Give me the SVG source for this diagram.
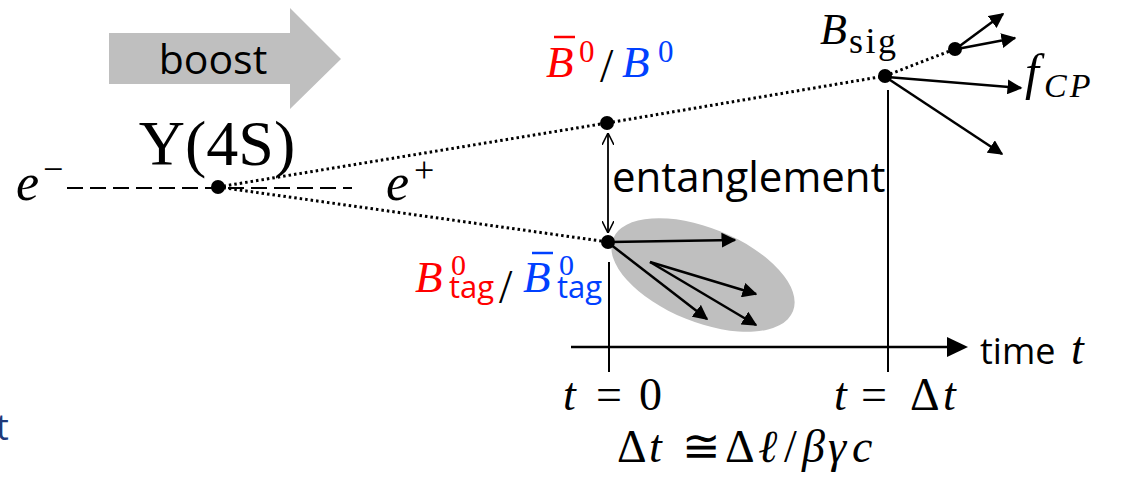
<svg xmlns="http://www.w3.org/2000/svg" width="1122" height="486" viewBox="0 0 1122 486">
<defs>
<marker id="ah" viewBox="0 0 10 10" refX="9" refY="5" markerWidth="6" markerHeight="6" markerUnits="strokeWidth" orient="auto">
<path d="M0,0 L10,5 L0,10 z" fill="#000"/>
</marker>
<marker id="oa" viewBox="0 0 10 10" refX="10" refY="5" markerWidth="12" markerHeight="12" markerUnits="userSpaceOnUse" orient="auto-start-reverse">
<path d="M0,0 L10,5 L0,10" fill="none" stroke="#000" stroke-width="1.3"/>
</marker>
</defs>
<style>
.sans{font-family:"Open Sans","Noto Sans","Liberation Sans",sans-serif;fill:#000}
.math{font-family:"Liberation Serif","DejaVu Serif",serif;fill:#000}
.it{font-style:italic}
.dot{fill:#000}
.dotted{stroke:#000;stroke-width:3;stroke-dasharray:2.5 3;fill:none}
.arr{stroke:#000;stroke-width:2.5;fill:none;marker-end:url(#ah)}
.thin{stroke:#000;stroke-width:2;fill:none}
.red{fill:#ff0000}
.blue{fill:#0040ff}
.sub{font-family:"Open Sans","Noto Sans","Liberation Sans",sans-serif;font-style:normal}
</style>
<rect width="1122" height="486" fill="#fff"/>

<g id="boost">
<path d="M109,33 L290,33 L290,8 L341,59 L290,109 L290,84 L109,84 z" fill="#bfbfbf"/>
<text class="sans" x="213" y="74" font-size="41" text-anchor="middle">boost</text>
</g>

<g id="connectors">
<line x1="67" y1="188" x2="352" y2="188" stroke="#000" stroke-width="2" stroke-dasharray="16 7"/>
<line class="dotted" x1="218" y1="187" x2="607" y2="123"/>
<line class="dotted" x1="607" y1="123" x2="885" y2="76"/>
<line class="dotted" x1="885" y1="76" x2="955" y2="49"/>
<line class="dotted" x1="218" y1="187" x2="608" y2="242"/>
<line x1="608" y1="133" x2="608" y2="233" stroke="#000" stroke-width="1.8" marker-start="url(#oa)" marker-end="url(#oa)"/>
<line class="thin" x1="609" y1="262" x2="609" y2="372"/>
<line class="thin" x1="888" y1="90" x2="888" y2="372"/>
<line x1="571" y1="347" x2="950" y2="347" stroke="#000" stroke-width="2.5"/>
<path d="M947,337 L968,347 L947,357 z" fill="#000"/>
</g>

<g id="upsilon">
<circle class="dot" cx="218" cy="187" r="7"/>
<text class="math" x="217" y="165" font-size="64" text-anchor="middle">Υ(4S)</text>
<text class="math it" x="16" y="200" font-size="52">e<tspan font-style="normal" font-size="36" dx="4" dy="-19">−</tspan></text>
<text class="math it" x="386" y="200" font-size="52">e<tspan font-style="normal" font-size="36" dx="5" dy="-18">+</tspan></text>
</g>

<g id="bbar-b">
<circle class="dot" cx="607" cy="123" r="7"/>
<text class="math it red" x="546" y="77" font-size="45">B<tspan font-style="normal" font-size="31" x="579" dy="-15">0</tspan></text>
<line x1="554" y1="37" x2="575" y2="37" stroke="#ff0000" stroke-width="2.5"/>
<text class="math" x="600" y="82" font-size="48">/</text>
<text class="math it blue" x="622" y="77" font-size="45">B<tspan font-style="normal" font-size="31" x="658" dy="-15">0</tspan></text>
</g>

<g id="entanglement">
<text class="sans" x="612" y="192" font-size="42">entanglement</text>
</g>

<g id="btag">
<ellipse cx="703" cy="275" rx="97" ry="47" transform="rotate(22 703 275)" fill="#bfbfbf"/>
<circle class="dot" cx="608" cy="242" r="7"/>
<line class="arr" x1="610" y1="242" x2="735" y2="240"/>
<line class="arr" x1="610" y1="244" x2="707" y2="319"/>
<line class="arr" x1="650" y1="262" x2="756" y2="294"/>
<line class="arr" x1="650" y1="262" x2="756" y2="325"/>
<text class="math it red" x="415" y="292" font-size="45">B<tspan font-style="normal" font-size="30" x="451" dy="-17">0</tspan><tspan class="sub" font-size="31" x="449" dy="23">tag</tspan></text>
<text class="math" x="499" y="303" font-size="48">/</text>
<text class="math it blue" x="523" y="292" font-size="45">B<tspan font-style="normal" font-size="30" x="559" dy="-17">0</tspan><tspan class="sub" font-size="31" x="557" dy="23">tag</tspan></text>
<line x1="532" y1="253" x2="553" y2="253" stroke="#0040ff" stroke-width="2.5"/>
</g>

<g id="bsig">
<circle class="dot" cx="885" cy="76" r="7"/>
<circle class="dot" cx="955" cy="49" r="7"/>
<line class="arr" x1="887" y1="77" x2="1021" y2="88"/>
<line class="arr" x1="887" y1="78" x2="1002" y2="154"/>
<line class="arr" x1="957" y1="48" x2="1003" y2="14"/>
<line class="arr" x1="957" y1="49" x2="1015" y2="38"/>
<text class="math it" x="820" y="44" font-size="44">B<tspan font-style="normal" font-size="36" letter-spacing="2.5" x="849" dy="9">sig</tspan></text>
<text class="math it" x="1025" y="89" font-size="50">f<tspan font-size="34" letter-spacing="3" x="1044" dy="8">CP</tspan></text>
</g>

<g id="axis-labels">
<text class="sans" x="980" y="364" font-size="36">time</text>
<text class="math it" x="1071" y="364" font-size="46">t</text>
<g id="t0">
<text class="math" y="410" font-size="46"><tspan x="563" font-style="italic">t</tspan><tspan x="596">=</tspan><tspan x="639">0</tspan></text>
</g>
<g id="tdt">
<text class="math" y="410" font-size="46"><tspan x="834" font-style="italic">t</tspan><tspan x="861">=</tspan><tspan x="910">Δ</tspan><tspan x="943" font-style="italic">t</tspan></text>
</g>
<g id="dtformula">
<text class="math" y="462" font-size="46"><tspan x="617">Δ</tspan><tspan x="649" font-style="italic">t</tspan><tspan x="682">≅</tspan><tspan x="725">Δ</tspan><tspan x="758" font-style="italic">ℓ</tspan><tspan x="784">/</tspan><tspan x="802" font-style="italic">β</tspan><tspan x="828" font-style="italic">γ</tspan><tspan x="852" font-style="italic">c</tspan></text>
</g>
<text x="-4" y="440" font-size="36" fill="#1f3a7a" font-family="Open Sans, Noto Sans, sans-serif">t</text>
</g>
</svg>
